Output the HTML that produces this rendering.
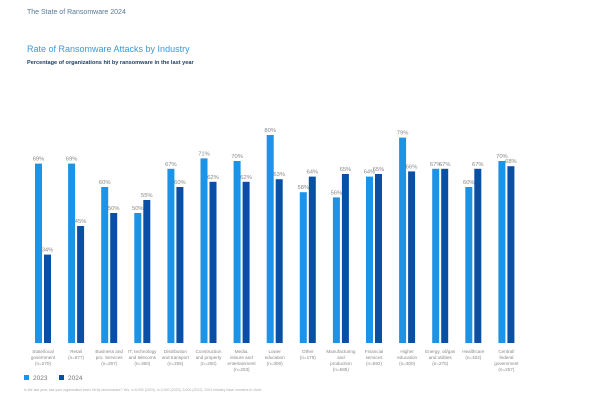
<!DOCTYPE html>
<html><head><meta charset="utf-8"><style>
body{margin:0;width:602px;height:407px;background:#fff;font-family:"Liberation Sans",sans-serif;overflow:hidden;position:relative}
.t{position:absolute;white-space:nowrap}
</style></head><body>
<div class="t" style="left:27px;top:9px;font-size:7px;color:#5a7a9a">The State of Ransomware 2024</div>
<div class="t" style="left:27px;top:44px;font-size:9px;color:#3a9ad9">Rate of Ransomware Attacks by Industry</div>
<div class="t" style="left:27px;top:60px;font-size:5.6px;font-weight:bold;color:#1d3f66">Percentage of organizations hit by ransomware in the last year</div>
<svg id="chart" width="602" height="407" style="position:absolute;left:0;top:0"></svg>
<script>
const categories=[["State/local","government","(n=270)"],["Retail","(n=577)"],["Business and","pro. Services","(n=297)"],["IT, technology","and telecoms","(n=360)"],["Distribution","and transport","(n=255)"],["Construction","and property","(n=250)"],["Media,","leisure and","entertainment","(n=203)"],["Lower","education","(n=300)"],["Other","(n=175)"],["Manufacturing","and","production","(n=585)"],["Financial","services","(n=592)"],["Higher","education","(n=300)"],["Energy, oil/gas","and utilities","(n=275)"],["Healthcare","(n=402)"],["Central/","federal","government","(n=257)"]];
const values2023=[69,69,60,50,67,71,70,80,58,56,64,79,67,60,70];
const values2024=[34,45,50,55,60,62,62,63,64,65,65,66,67,67,68];
const ns="http://www.w3.org/2000/svg";
const svg=document.getElementById('chart');
const base=343, k=2.6, x0=35, pitch=33.1, bw=7;
const y=v=>base-v*k;
const xg=i=>x0+i*pitch;
function mk(tag,attrs){const e=document.createElementNS(ns,tag);for(const a in attrs)e.setAttribute(a,attrs[a]);svg.appendChild(e);return e;}
categories.forEach((c,i)=>{
  [[values2023,'#1b93e6',0],[values2024,'#0a4fa6',9]].forEach(([arr,col,off],s)=>{
    const v=arr[i];
    const r=mk('rect',{x:xg(i)+off,y:y(v),width:bw,height:v*k,fill:col});
    
    
    const t=mk('text',{x:xg(i)+off+bw/2,y:y(v)-3,'font-size':5.8,fill:'#888','text-anchor':'middle'});
    t.textContent=v+'%';
    
    
  });
  c.forEach((line,j)=>{
    const t=mk('text',{x:xg(i)+8,y:353+j*6,'font-size':4.6,fill:'#888','text-anchor':'middle'});
    t.textContent=line;
    
    
  });
});
</script>
<div class="t" style="left:24px;top:375px;font-size:6.5px;color:#777"><span style="display:inline-block;width:5px;height:5px;background:#1b93e6;margin-right:4px"></span>2023</div>
<div class="t" style="left:59px;top:375px;font-size:6.5px;color:#777"><span style="display:inline-block;width:5px;height:5px;background:#0a4fa6;margin-right:4px"></span>2024</div>
<div class="t" style="left:24px;top:388px;font-size:3.5px;color:#aaa">In the last year, has your organization been hit by ransomware? Yes. n=5,000 (2024), n=3,000 (2023), 5,600 (2022). 2024 industry base numbers in chart.</div>
</body></html>
